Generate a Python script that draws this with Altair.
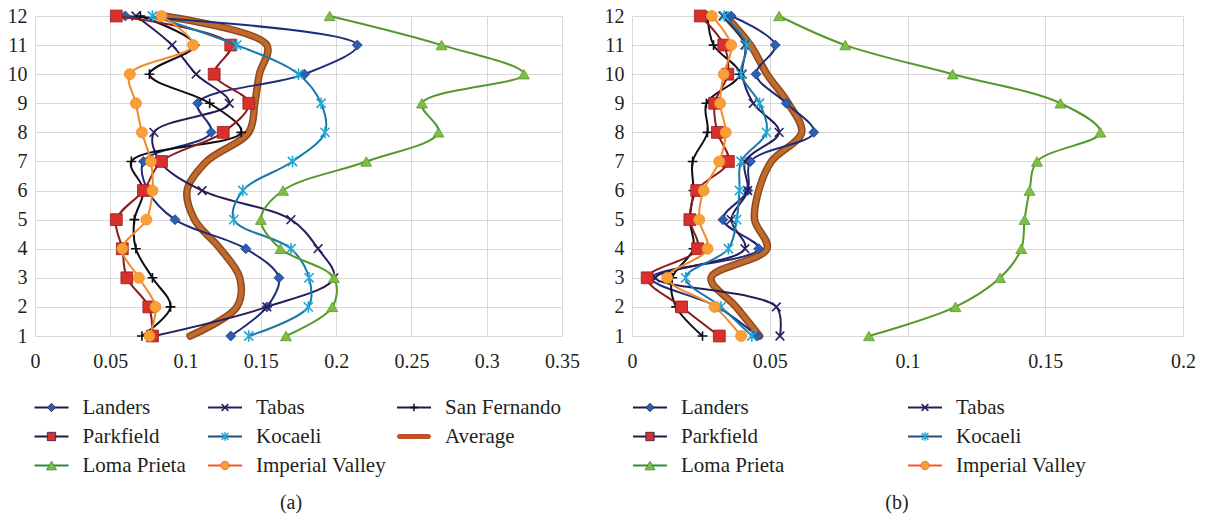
import altair as alt
import pandas as pd

# Storey numbers (bottom to top)
floors = list(range(1, 13))

# ---- Panel (a): values for floors 1..12 ----
landers_a = [0.130, 0.154, 0.162, 0.140, 0.093, 0.075, 0.072, 0.117, 0.108, 0.179, 0.214, 0.060]
tabas_a = [0.079, 0.154, 0.1985, 0.188, 0.170, 0.111, 0.083, 0.079, 0.129, 0.107, 0.091, 0.067]
sanfernando_a = [0.071, 0.090, 0.078, 0.067, 0.066, 0.072, 0.064, 0.137, 0.116, 0.076, 0.106, 0.070]
parkfield_a = [0.078, 0.0756, 0.061, 0.058, 0.054, 0.072, 0.084, 0.125, 0.142, 0.119, 0.130, 0.054]
kocaeli_a = [0.142, 0.1815, 0.182, 0.170, 0.132, 0.138, 0.171, 0.1926, 0.190, 0.175, 0.134, 0.078]
lomaprieta_a = [0.1667, 0.1975, 0.1985, 0.163, 0.150, 0.1647, 0.220, 0.268, 0.257, 0.3247, 0.270, 0.1957]
imperial_a = [0.076, 0.080, 0.069, 0.058, 0.074, 0.078, 0.077, 0.071, 0.067, 0.063, 0.105, 0.084]
average_a = [0.103, 0.134, 0.136, 0.123, 0.106, 0.101, 0.114, 0.142, 0.146, 0.149, 0.154, 0.0855]

# ---- Panel (b): values for floors 1..12 ----
landers_b = [0.0455, 0.031, 0.007, 0.046, 0.033, 0.042, 0.043, 0.066, 0.056, 0.045, 0.052, 0.036]
tabas_b = [0.0537, 0.0524, 0.0085, 0.041, 0.036, 0.042, 0.041, 0.0534, 0.044, 0.040, 0.041, 0.033]
sanfernando_b = [0.0256, 0.016, 0.0146, 0.0223, 0.021, 0.0223, 0.022, 0.0274, 0.027, 0.039, 0.0296, 0.0274]
parkfield_b = [0.0317, 0.018, 0.0055, 0.0238, 0.021, 0.0235, 0.035, 0.031, 0.030, 0.0348, 0.0333, 0.0248]
kocaeli_b = [0.0435, 0.0323, 0.0195, 0.035, 0.038, 0.039, 0.0396, 0.0488, 0.0463, 0.0396, 0.0415, 0.0335]
lomaprieta_b = [0.086, 0.1174, 0.1336, 0.1413, 0.1425, 0.1443, 0.147, 0.170, 0.1555, 0.1164, 0.0774, 0.0534]
imperial_b = [0.0396, 0.030, 0.0128, 0.0274, 0.0244, 0.026, 0.0317, 0.034, 0.032, 0.0333, 0.036, 0.029]
average_b = [0.0463, 0.0378, 0.0287, 0.049, 0.0445, 0.046, 0.0506, 0.0616, 0.0567, 0.049, 0.043, 0.034]

# Axis tick labels
xticks_a = [0, 0.05, 0.1, 0.15, 0.2, 0.25, 0.3, 0.35]
xticks_b = [0, 0.05, 0.1, 0.15, 0.2]

# Legend entries
legend_a_names = ["Landers", "Tabas", "San Fernando", "Parkfield", "Kocaeli",
                  "Average", "Loma Prieta", "Imperial Valley"]
legend_b_names = ["Landers", "Tabas", "Parkfield", "Kocaeli",
                  "Loma Prieta", "Imperial Valley"]

SERIF = "Liberation Serif, DejaVu Serif, Noto Serif, serif"
TEXT = "#231f20"
GRID = "#d9d9d9"

X_PATH = "M-1,-1L1,1M-1,1L1,-1"
STAR_PATH = "M-1,-1L1,1M-1,1L1,-1M0,-1.25L0,1.25"
PLUS_PATH = "M-1,0L1,0M0,-1L0,1"

# Marker / line styling per earthquake record
STYLE = {
    "Landers": dict(line="#1f2d7a", shape="diamond", filled=True, fill="#2c5fb0",
                    stroke="#1f3f8a", size=100, leg_line="#1c1c4c", leg_size=70),
    "Tabas": dict(line="#2b1d5a", shape=X_PATH, filled=False, fill=None,
                  stroke="#2b1d5a", size=75, leg_line="#2b1d5a", leg_size=45),
    "San Fernando": dict(line="#0d0d12", shape=PLUS_PATH, filled=False, fill=None,
                         stroke="#0d0d12", size=95, leg_line="#1c1c4c", leg_size=60),
    "Parkfield": dict(line="#8b1c1c", shape="square", filled=True, fill="#d8302c",
                      stroke="#9a1a1a", size=140, leg_line="#1c1c4c", leg_size=70),
    "Kocaeli": dict(line="#1a78a8", shape=STAR_PATH, filled=False, fill=None,
                    stroke="#22a8d6", size=85, leg_line="#1f4f7a", leg_size=45),
    "Loma Prieta": dict(line="#55992a", shape="triangle-up", filled=True, fill="#7dbf45",
                        stroke="#5a9a30", size=120, leg_line="#2e8b3a", leg_size=100),
    "Imperial Valley": dict(line="#f28a2a", shape="circle", filled=True, fill="#f8a035",
                            stroke="#f08a28", size=120, leg_line="#f05a28", leg_size=70),
}

DRAW_ORDER = ["Landers", "Tabas", "San Fernando", "Parkfield", "Kocaeli",
              "Loma Prieta", "Imperial Valley"]


def make_panel(values, average, x_max, ticks, width):
    x_enc = alt.X(
        "value:Q",
        scale=alt.Scale(domain=[0, x_max], nice=False, zero=True),
        axis=alt.Axis(values=ticks, format="~g", title=None, grid=True, gridColor=GRID,
                      gridWidth=1, ticks=False, tickSize=0, domain=False,
                      labelFont=SERIF, labelFontSize=20, labelColor=TEXT,
                      labelPadding=15, labelFlush=False, labelOverlap=False),
    )
    y_enc = alt.Y(
        "floor:Q",
        scale=alt.Scale(domain=[1, 12], nice=False, zero=False),
        axis=alt.Axis(values=floors, format="d", title=None, grid=True, gridColor=GRID,
                      gridWidth=1, ticks=False, tickSize=0, domain=False,
                      labelFont=SERIF, labelFontSize=20, labelColor=TEXT,
                      labelPadding=8, labelFlush=False, labelOverlap=False),
    )
    layers = []
    avg_df = pd.DataFrame({"floor": floors, "value": average})
    avg = alt.Chart(avg_df).encode(x=x_enc, y=y_enc, order=alt.Order("floor:Q"))
    layers.append(avg.mark_line(interpolate="catmull-rom", color="#8e4a1c",
                                strokeWidth=7.5, strokeCap="round"))
    layers.append(avg.mark_line(interpolate="catmull-rom", color="#c06a2e",
                                strokeWidth=4.5, strokeCap="round"))
    for name in DRAW_ORDER:
        st = STYLE[name]
        df = pd.DataFrame({"floor": floors, "value": values[name]})
        base = alt.Chart(df).encode(x=x_enc, y=y_enc, order=alt.Order("floor:Q"))
        layers.append(base.mark_line(interpolate="catmull-rom", color=st["line"],
                                     strokeWidth=2))
        if st["filled"]:
            pt = base.mark_point(shape=st["shape"], filled=True, fill=st["fill"],
                                 stroke=st["stroke"], strokeWidth=0.8,
                                 size=st["size"], opacity=1)
        else:
            pt = base.mark_point(shape=st["shape"], filled=False, stroke=st["stroke"],
                                 strokeWidth=1.6, size=st["size"], opacity=1)
        layers.append(pt)
    return alt.layer(*layers).properties(width=width, height=320)


def make_legend(names, col_centers, width, caption):
    ncols = len(col_centers)
    xs = alt.X("col:Q", axis=None,
               scale=alt.Scale(domain=list(range(ncols)), range=col_centers,
                               nice=False, zero=False))
    ys = alt.Y("row:O", axis=None, scale=alt.Scale(type="point", padding=0.5))
    layers = []
    for i, name in enumerate(names):
        df = pd.DataFrame({"name": [name], "col": [i % ncols], "row": [i // ncols]})
        base = alt.Chart(df).encode(x=xs, y=ys)
        if name == "Average":
            layers.append(base.mark_tick(orient="horizontal", size=34, thickness=5,
                                         cornerRadius=2.5, color="#c0502a", opacity=1))
        else:
            st = STYLE[name]
            layers.append(base.mark_tick(orient="horizontal", size=34, thickness=2,
                                         color=st["leg_line"], opacity=1))
            if st["filled"]:
                layers.append(base.mark_point(shape=st["shape"], filled=True,
                                              fill=st["fill"], stroke=st["leg_line"],
                                              strokeWidth=0.8, size=st["leg_size"],
                                              opacity=1))
            else:
                layers.append(base.mark_point(shape=st["shape"], filled=False,
                                              stroke=st["stroke"], strokeWidth=1.5,
                                              size=st["leg_size"], opacity=1))
        layers.append(base.mark_text(align="left", baseline="middle", dx=31,
                                     font=SERIF, fontSize=21, color=TEXT)
                      .encode(text="name:N"))
    return alt.layer(*layers).properties(
        width=width, height=87,
        title=alt.TitleParams(caption, orient="bottom", anchor="middle", font=SERIF,
                              fontSize=20, fontWeight="normal", color=TEXT, offset=13),
    )


values_a = {"Landers": landers_a, "Tabas": tabas_a, "San Fernando": sanfernando_a,
            "Parkfield": parkfield_a, "Kocaeli": kocaeli_a, "Loma Prieta": lomaprieta_a,
            "Imperial Valley": imperial_a}
values_b = {"Landers": landers_b, "Tabas": tabas_b, "San Fernando": sanfernando_b,
            "Parkfield": parkfield_b, "Kocaeli": kocaeli_b, "Loma Prieta": lomaprieta_b,
            "Imperial Valley": imperial_b}

panel_a = make_panel(values_a, average_a, 0.35, xticks_a, 527)
panel_b = make_panel(values_b, average_b, 0.2, xticks_b, 551)

# Legend blocks share the plot area's left edge
legend_a = make_legend(legend_a_names, [16.5, 190, 379], 512, "(a)")
legend_b = make_legend(legend_b_names, [18, 293], 530, "(b)")

chart = alt.hconcat(
    alt.vconcat(panel_a, legend_a, spacing=20),
    alt.vconcat(panel_b, legend_b, spacing=20),
    spacing=23,
).properties(
    padding={"left": 6, "top": 0, "right": 0, "bottom": 0}
).configure_view(stroke="transparent")

chart.save("out.html", embed_options={"renderer": "svg", "actions": False})
